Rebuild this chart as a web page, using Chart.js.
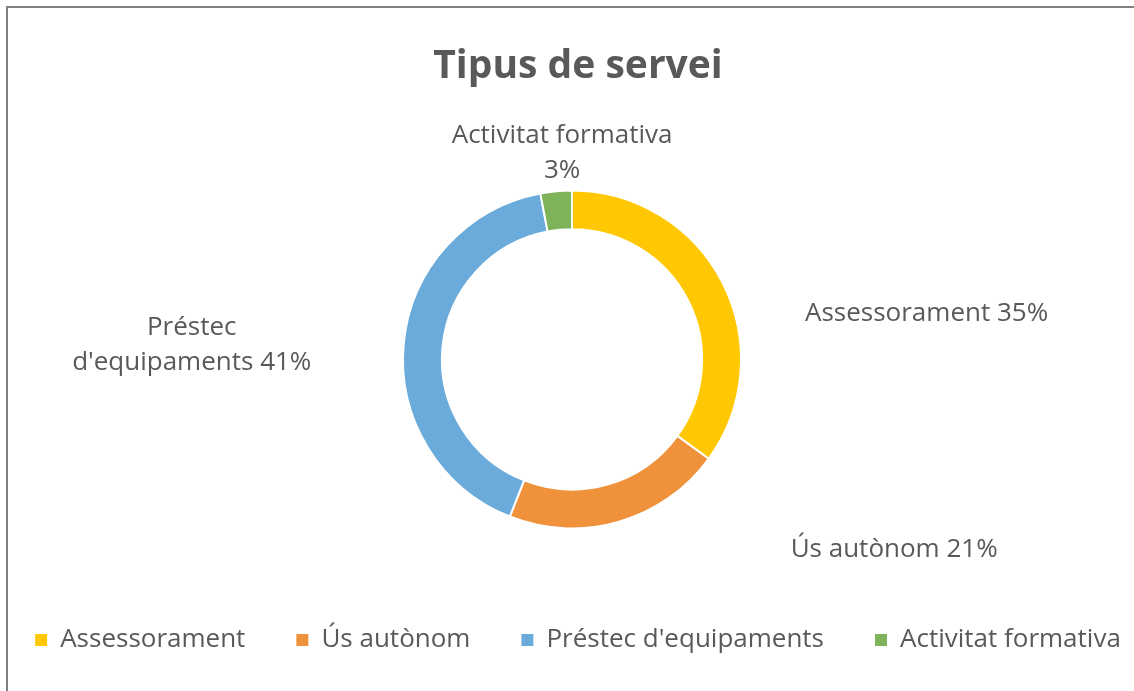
<!DOCTYPE html>
<html>
<head>
<meta charset="utf-8">
<script src="https://cdn.jsdelivr.net/npm/chart.js@4/dist/chart.umd.min.js"></script>
<style>
  html, body { margin: 0; padding: 0; background: #fff; }
  #wrap { width: 1134px; height: 691px; position: relative; }
</style>
</head>
<body>
<div id="wrap"><canvas id="donut" width="1134" height="691"></canvas></div>
<script>
const categories = ["Assessorament", "Ús autònom", "Préstec d'equipaments", "Activitat formativa"];
const percents = [35, 21, 41, 3];
// label text as Excel wraps it
const labelLines = [
  ["Assessorament 35%"],
  ["Ús autònom 21%"],
  ["Préstec", "d'equipaments 41%"],
  ["Activitat formativa", "3%"]
];
const colors = ["#FFC803", "#F0913C", "#6AABDB", "#7FB35A"];
// shift of each label from the outer middle of its slice
const labelShift = [[204, 31], [275, 28], [-212, 2], [6, -38]];

const textGrey = "#595959";
const fontFamily = "'Open Sans', sans-serif";

// frame like the cropped screenshot: top and left edge only
const framePlugin = {
  id: "frame",
  beforeDraw(chart) {
    const ctx = chart.ctx;
    ctx.save();
    ctx.fillStyle = "#fff";
    ctx.fillRect(0, 0, chart.width, chart.height);
    ctx.strokeStyle = "#7f7f7f";
    ctx.lineWidth = 2;
    ctx.beginPath();
    ctx.moveTo(7, chart.height);
    ctx.lineTo(7, 7);
    ctx.lineTo(chart.width, 7);
    ctx.stroke();
    ctx.restore();
  }
};

// outside data labels
const labelPlugin = {
  id: "sliceLabels",
  afterDatasetsDraw(chart) {
    const ctx = chart.ctx;
    const meta = chart.getDatasetMeta(0);
    ctx.save();
    ctx.font = "26px " + fontFamily;
    ctx.fillStyle = textGrey;
    ctx.textAlign = "center";
    ctx.textBaseline = "middle";
    meta.data.forEach((arc, i) => {
      const mid = (arc.startAngle + arc.endAngle) / 2;
      const x = arc.x + Math.cos(mid) * arc.outerRadius + labelShift[i][0];
      const y = arc.y + Math.sin(mid) * arc.outerRadius + labelShift[i][1];
      const lines = labelLines[i];
      const lh = 35;
      lines.forEach((t, j) => {
        ctx.fillText(t, x, y + (j - (lines.length - 1) / 2) * lh);
      });
    });
    ctx.restore();
  }
};

const defaultLabels = Chart.overrides.doughnut.plugins.legend.labels.generateLabels;

const chart = new Chart(document.getElementById("donut"), {
  type: "doughnut",
  data: {
    labels: categories,
    datasets: [{
      data: percents,
      backgroundColor: colors,
      borderColor: "#fff",
      borderWidth: 2
    }]
  },
  options: {
    responsive: false,
    animation: false,
    radius: 169,
    cutout: "77%",
    // wide legend row needs room beyond the canvas edges
    layout: { padding: { left: -38, right: -60, top: 33, bottom: 28 } },
    plugins: {
      title: {
        display: true,
        text: "Tipus de servei",
        color: textGrey,
        font: { family: fontFamily, size: 39, weight: "bold" },
        padding: { top: 10, bottom: 53 }
      },
      // empty box on the left, pushes the ring a little right
      subtitle: {
        display: true,
        text: "",
        position: "left",
        fullSize: false,
        font: { size: 10 },
        padding: { top: 18, bottom: 18 }
      },
      legend: {
        position: "bottom",
        labels: {
          color: textGrey,
          font: { family: fontFamily, size: 26 },
          usePointStyle: true,
          pointStyle: "rect",
          pointStyleWidth: 12,
          boxHeight: 12,
          padding: 51,
          // plain squares, no white slice border
          generateLabels(c) {
            return defaultLabels(c).map(item => ({ ...item, lineWidth: 0 }));
          }
        }
      },
      tooltip: { enabled: false }
    }
  },
  plugins: [framePlugin, labelPlugin]
});
</script>
</body>
</html>
